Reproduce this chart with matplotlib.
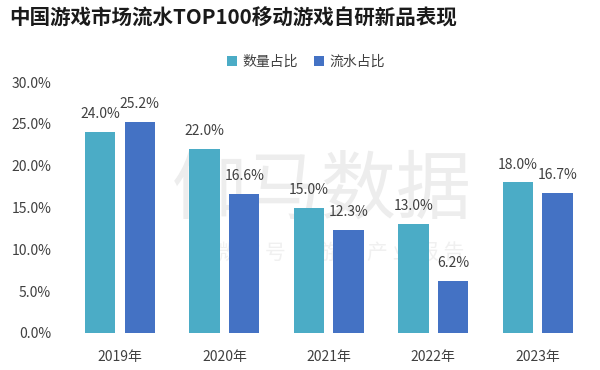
import matplotlib
matplotlib.use("Agg")
import matplotlib.pyplot as plt
import numpy as np
from matplotlib.ticker import FuncFormatter

plt.rcParams['font.family'] = ['Noto Sans CJK SC', 'DejaVu Sans']

years = ["2019年", "2020年", "2021年", "2022年", "2023年"]
count_share = [24.0, 22.0, 15.0, 13.0, 18.0]
revenue_share = [25.2, 16.6, 12.3, 6.2, 16.7]
series_names = ["数量占比", "流水占比"]
title = "中国游戏市场流水TOP100移动游戏自研新品表现"

c1 = "#4BACC6"
c2 = "#4472C4"
txt = "#404040"

fig = plt.figure(figsize=(6, 3.7), dpi=100)
ax = fig.add_axes([0.113, 0.10, 0.87, 0.678])

x = np.arange(len(years))
w = 0.29
off = 0.19
b1 = ax.bar(x - off, count_share, w, color=c1, label=series_names[0], zorder=2)
b2 = ax.bar(x + off, revenue_share, w, color=c2, label=series_names[1], zorder=2)

for bars, vals in ((b1, count_share), (b2, revenue_share)):
    for r, v in zip(bars, vals):
        ax.text(r.get_x() + r.get_width() / 2, v + 1.3, f"{v:.1f}%",
                ha="center", va="bottom", fontsize=10, color=txt, zorder=3)

ax.set_xlim(-0.5, 4.5)
ax.set_ylim(0, 30)
ax.set_yticks(np.arange(0, 31, 5))
ax.yaxis.set_major_formatter(FuncFormatter(lambda v, p: f"{v:.1f}%"))
ax.set_xticks(x)
ax.set_xticklabels(years)
ax.tick_params(axis="both", length=0, labelsize=10, colors=txt)
ax.tick_params(axis="x", pad=12)
ax.tick_params(axis="y", pad=12)
for s in ax.spines.values():
    s.set_visible(False)

# watermark (behind the bars)
ax.text(0.487, 0.566, "伽马数据", transform=ax.transAxes, fontsize=54, color="#ededed",
        ha="center", va="center", zorder=0)
ax.text(0.52, 0.32, "微 信 号 ： 游 戏 产 业 报 告", transform=ax.transAxes, fontsize=15,
        color="#f0f0f0", ha="center", va="center", zorder=0)

fig.text(0.015, 0.95, title, fontsize=14.8, fontweight="bold", color="#1a1a1a", ha="left", va="center")

fig.legend(loc="center", bbox_to_anchor=(0.51, 0.832), ncol=2, frameon=False,
           fontsize=10, handlelength=0.7, handleheight=0.7, columnspacing=1.2,
           handletextpad=0.4, labelcolor=txt)

fig.savefig("out.png", dpi=100)
